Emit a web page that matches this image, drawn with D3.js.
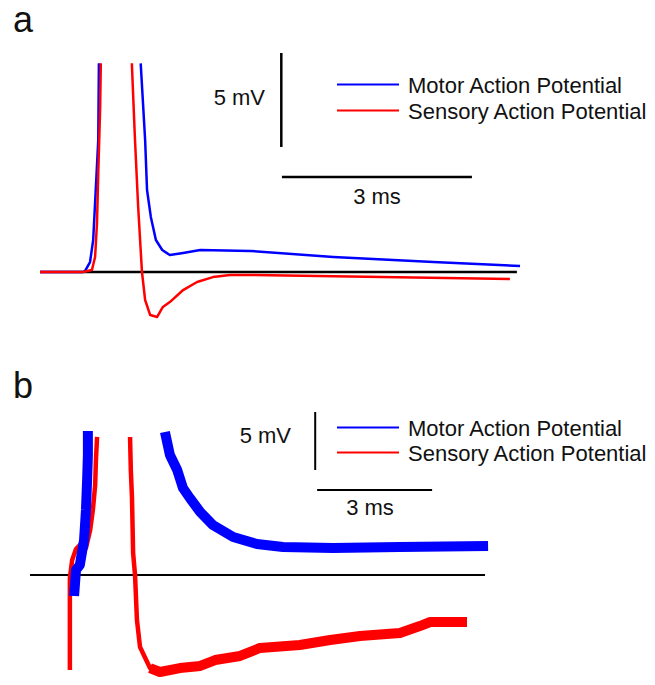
<!DOCTYPE html>
<html>
<head>
<meta charset="utf-8">
<script src="https://cdn.jsdelivr.net/npm/d3@7"></script>
<style>
  body { margin: 0; background: #fff; }
  text { font-family: "Liberation Sans", Arial, sans-serif; fill: #111; }
</style>
</head>
<body>
<div id="chart"></div>
<script>
// traces as [time (ms), potential (mV)]; null = spike runs off the top
const motorA = [
    [0, 0], [0.68, 0], [0.71, 0.05], [0.79, 0.53], [0.84, 1.7], [0.88, 4.36], [0.92, 7.02], [0.93, 11.1],
    null,
    [1.59, 11.1], [1.66, 7.02], [1.69, 4.36], [1.75, 2.93], [1.83, 1.7], [1.93, 1.17], [2.05, 0.9],
    [2.26, 1.01], [2.53, 1.17], [3.32, 1.12], [4.63, 0.8], [6.21, 0.53], [7.58, 0.32]
];
const sensoryA = [
    [0, 0], [0.68, 0], [0.82, 0.11], [0.87, 0.8], [0.9, 2.61], [0.92, 5.27], [0.95, 8.78], [0.96, 11.1],
    null,
    [1.45, 11.1], [1.5, 7.02], [1.55, 3.46], [1.61, 0], [1.66, -1.49], [1.74, -2.29], [1.85, -2.39],
    [1.94, -1.86], [2.05, -1.6], [2.26, -0.96], [2.48, -0.53], [2.73, -0.27], [3.0, -0.16],
    [3.32, -0.16], [7.42, -0.37]
];
const motorB = [
    [1.15, -1.81], [1.2, 0.43], [1.3, 0.86], [1.41, 3.02], [1.46, 5.6], [1.49, 8.19], [1.51, 10.34], [1.51, 12.41],
    null,
    [3.52, 12.33], [3.65, 10.34], [3.84, 9.05], [3.99, 7.5], [4.17, 6.64], [4.44, 5.43], [4.77, 4.31],
    [5.3, 3.28], [5.92, 2.67], [6.6, 2.41], [7.9, 2.33], [9.65, 2.41], [11.95, 2.5]
];
const sensoryB = [
    [1.04, -8.19], [1.04, -0.26], [1.1, 1.29], [1.2, 2.24], [1.3, 2.59], [1.46, 2.33], [1.57, 3.88],
    [1.64, 5.6], [1.7, 7.76], [1.72, 9.91], [1.75, 11.9],
    null,
    [2.61, 11.9], [2.63, 9.05], [2.66, 6.72], [2.69, 1.9], [2.74, 0], [2.79, -3.88], [2.87, -6.21],
    [3.13, -8.02], [3.39, -8.36], [3.91, -8.02], [4.44, -7.84], [4.83, -7.33], [5.48, -6.98],
    [6.0, -6.29], [7.04, -6.03], [7.83, -5.6], [8.61, -5.26], [9.65, -5.0], [10.17, -4.4],
    [10.44, -4.05], [11.4, -4.05]
];
const legendLabels = ["Motor Action Potential", "Sensory Action Potential"];
const panelLetters = ["a", "b"];
const baselineEnd = [7.53, 11.87];   // ms, end of the 0 mV line
const barTime = 3;                   // ms
const barVolt = 5;                   // mV

const blue = "#0000ff", red = "#ff0000";
const W = 655, H = 685;

const svg = d3.select("#chart").append("svg")
    .attr("width", W)
    .attr("height", H);

const panels = [
    {
        letter: panelLetters[0], letterY: 32,
        x: d3.scaleLinear().domain([0, 3]).range([40, 230]),
        y: d3.scaleLinear().domain([0, 5]).range([272, 178]),
        traces: [
            { data: motorA, color: blue, width: 2.5 },
            { data: sensoryA, color: red, width: 2.5 }
        ],
        baseEnd: baselineEnd[0], baseWidth: 2.5,
        vBar: [3.81, 6.65], hBar: [3.82, 5.05], barWidth: 2.5,
        mvLabel: [265, 105], msLabel: [377, 204],
        legendY: [93, 119]
    },
    {
        letter: panelLetters[1], letterY: 398,
        x: d3.scaleLinear().domain([0, 3]).range([30, 145]),
        y: d3.scaleLinear().domain([0, 5]).range([575, 517]),
        traces: [
            { data: sensoryB, color: red, width: 4.5 },
            { data: sensoryB, color: red, width: 10, from: 3.0 },
            { data: motorB, color: blue, width: 10 }
        ],
        baseEnd: baselineEnd[1], baseWidth: 2,
        vBar: [7.44, 9.05], hBar: [7.49, 7.33], barWidth: 2,
        mvLabel: [291, 443], msLabel: [370, 515],
        legendY: [436, 461]
    }
];

function drawPanel(p) {
    const g = svg.append("g");

    g.append("text")
        .attr("x", 13)
        .attr("y", p.letterY)
        .style("font-size", "36px")
        .text(p.letter);

    // zero line
    g.append("line")
        .attr("x1", p.x(0)).attr("x2", p.x(p.baseEnd))
        .attr("y1", p.y(0)).attr("y2", p.y(0))
        .attr("stroke", "#000")
        .attr("stroke-width", p.baseWidth);

    const line = d3.line()
        .defined(d => d !== null)
        .x(d => p.x(d[0]))
        .y(d => p.y(d[1]));

    p.traces.forEach(tr => {
        const pts = tr.from === undefined ? tr.data : tr.data.filter(d => d !== null && d[0] >= tr.from);
        g.append("path")
            .attr("d", line(pts))
            .attr("fill", "none")
            .attr("stroke", tr.color)
            .attr("stroke-width", tr.width)
            .attr("stroke-linejoin", "round");
    });

    // scale bars
    g.append("line")
        .attr("x1", p.x(p.vBar[0])).attr("x2", p.x(p.vBar[0]))
        .attr("y1", p.y(p.vBar[1])).attr("y2", p.y(p.vBar[1] + barVolt))
        .attr("stroke", "#000").attr("stroke-width", p.barWidth);
    g.append("line")
        .attr("x1", p.x(p.hBar[0])).attr("x2", p.x(p.hBar[0] + barTime))
        .attr("y1", p.y(p.hBar[1])).attr("y2", p.y(p.hBar[1]))
        .attr("stroke", "#000").attr("stroke-width", p.barWidth);

    g.append("text")
        .attr("x", p.mvLabel[0]).attr("y", p.mvLabel[1])
        .attr("text-anchor", "end")
        .style("font-size", "22px")
        .text(`${barVolt} mV`);
    g.append("text")
        .attr("x", p.msLabel[0]).attr("y", p.msLabel[1])
        .attr("text-anchor", "middle")
        .style("font-size", "22px")
        .text(`${barTime} ms`);

    // legend
    [blue, red].forEach((c, i) => {
        g.append("line")
            .attr("x1", 337).attr("x2", 399)
            .attr("y1", p.legendY[i] - 8.5).attr("y2", p.legendY[i] - 8.5)
            .attr("stroke", c).attr("stroke-width", 2.2);
        g.append("text")
            .attr("x", 408).attr("y", p.legendY[i])
            .style("font-size", "22px")
            .text(legendLabels[i]);
    });
}

panels.forEach(drawPanel);
</script>
</body>
</html>
